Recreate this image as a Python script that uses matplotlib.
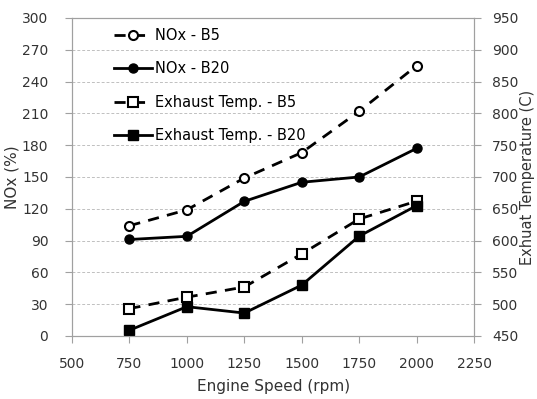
import numpy as np
import matplotlib.pyplot as plt

speed = [750, 1000, 1250, 1500, 1750, 2000]
nox_b5 = [104, 119, 149, 173, 212, 255]
nox_b20 = [91, 94, 127, 145, 150, 177]
temp_b5 = [493, 511, 527, 579, 634, 662]
temp_b20 = [459, 496, 486, 530, 607, 655]

plt.rcParams['font.family'] = 'DejaVu Sans'
plt.rcParams['font.size'] = 10

fig = plt.figure(figsize=(5.37, 3.99), dpi=100)
ax = fig.add_axes([0.134, 0.158, 0.749, 0.797])
ax2 = ax.twinx()

l1, = ax.plot(speed, nox_b5, color='black', ls=(0, (4, 3)), lw=2, marker='o', ms=6.5,
              mfc='white', mec='black', mew=1.5, label='NOx - B5')
l2, = ax.plot(speed, nox_b20, color='black', ls='-', lw=2, marker='o', ms=6.5,
              mfc='black', mec='black', label='NOx - B20')
l3, = ax2.plot(speed, temp_b5, color='black', ls=(0, (4, 3)), lw=2, marker='s', ms=7.5,
               mfc='white', mec='black', mew=1.5, label='Exhaust Temp. - B5')
l4, = ax2.plot(speed, temp_b20, color='black', ls='-', lw=2, marker='s', ms=7.5,
               mfc='black', mec='black', label='Exhaust Temp. - B20')

ax.set_xlim(500, 2250)
ax.set_xticks(np.arange(500, 2251, 250))
ax.set_ylim(0, 300)
ax.set_yticks(np.arange(0, 301, 30))
ax2.set_ylim(450, 950)
ax2.set_yticks(np.arange(450, 951, 50))

ax.yaxis.grid(True, ls=(0, (3, 2)), color='#c0c0c0', lw=0.7)
ax.set_axisbelow(True)

for a in (ax, ax2):
    for s in a.spines.values():
        s.set_color('#a0a0a0')
    a.tick_params(colors='#a0a0a0', labelcolor='#333333', length=5, pad=12)
ax.tick_params(axis='x', pad=10)
ax2.tick_params(axis='y', pad=8)

ax.set_xlabel('Engine Speed (rpm)', color='#333333', fontsize=11, labelpad=6)
ax.set_ylabel('NOx (%)', color='#333333', fontsize=11, labelpad=2)
ax2.set_ylabel('Exhuat Temperature (C)', color='#333333', fontsize=10.5, labelpad=1)

ax.legend(handles=[l1, l2, l3, l4], loc='upper left', frameon=False,
          handlelength=2.6, handletextpad=0.2, labelspacing=1.25, borderaxespad=0.3,
          bbox_to_anchor=(0.08, 1.0), fontsize=10.5)

fig.savefig('out.png', dpi=100)
